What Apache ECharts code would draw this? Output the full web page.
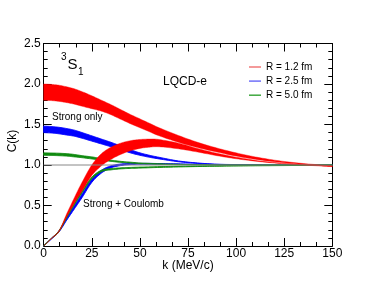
<!DOCTYPE html>
<html><head><meta charset="utf-8">
<script src="https://cdn.jsdelivr.net/npm/echarts@6/dist/echarts.min.js"></script>
<style>html,body{margin:0;padding:0;background:#fff}#c{width:374px;height:289px}</style>
</head><body><div id="c"></div>
<script>
// k grid (MeV/c)
const K = [0,4,8,12,16,20,25,30,35,40,45,50,55,60,70,80,90,100,110,120,130,140,150];
// R = 1.2 fm, strong only (band lo/hi)
const redStrongHi = [2.00,1.995,1.985,1.965,1.94,1.905,1.855,1.80,1.745,1.685,1.625,1.57,1.515,1.46,1.365,1.28,1.21,1.15,1.10,1.06,1.03,1.008,0.99];
const redStrongLo = [1.80,1.795,1.785,1.77,1.75,1.725,1.695,1.665,1.62,1.565,1.51,1.46,1.41,1.36,1.28,1.215,1.16,1.11,1.07,1.04,1.017,1.0,0.983];
// R = 1.2 fm, strong + Coulomb
const redCoulHi = [0.0,0.095,0.19,0.40,0.60,0.79,1.00,1.14,1.22,1.27,1.30,1.315,1.32,1.315,1.27,1.203,1.145,1.097,1.058,1.03,1.01,0.997,0.985];
const redCoulLo = [0.0,0.09,0.18,0.36,0.53,0.68,0.87,0.99,1.07,1.13,1.175,1.205,1.22,1.225,1.2,1.16,1.115,1.077,1.047,1.024,1.007,0.993,0.98];
// R = 2.5 fm
const blueStrongHi = [1.48,1.475,1.465,1.45,1.43,1.40,1.36,1.32,1.28,1.235,1.19,1.15,1.12,1.095,1.05,1.025,1.01,1.005,1.0,1.0,1.0,1.0,1.0];
const blueStrongLo = [1.40,1.395,1.385,1.37,1.355,1.33,1.295,1.26,1.225,1.19,1.15,1.12,1.095,1.075,1.04,1.02,1.005,1.0,1.0,1.0,1.0,1.0,1.0];
const blueCoulHi = [0.005,0.095,0.19,0.35,0.50,0.645,0.825,0.935,0.99,1.012,1.02,1.02,1.02,1.018,1.014,1.01,1.007,1.005,1.003,1.002,1.0,1.0,1.0];
const blueCoulLo = [0.0,0.085,0.175,0.32,0.46,0.60,0.785,0.90,0.965,0.993,1.005,1.01,1.01,1.01,1.008,1.006,1.004,1.003,1.002,1.001,1.0,1.0,1.0];
// R = 5.0 fm
const greenStrongHi = [1.15,1.148,1.145,1.14,1.13,1.115,1.10,1.08,1.06,1.045,1.035,1.025,1.02,1.015,1.008,1.004,1.0,1.0,1.0,1.0,1.0,1.0,1.0];
const greenStrongLo = [1.12,1.118,1.115,1.11,1.10,1.09,1.075,1.06,1.045,1.032,1.024,1.017,1.012,1.008,1.004,1.002,1.0,1.0,1.0,1.0,1.0,1.0,1.0];
const greenCoulHi = [0.005,0.095,0.19,0.37,0.53,0.68,0.85,0.935,0.955,0.965,0.97,0.974,0.977,0.98,0.984,0.988,0.99,0.992,0.994,0.996,0.997,0.998,0.999];
const greenCoulLo = [0.0,0.09,0.18,0.35,0.51,0.66,0.83,0.918,0.94,0.952,0.958,0.962,0.966,0.97,0.976,0.981,0.985,0.988,0.99,0.992,0.994,0.996,0.997];
// axis ticks
const xTicks = [0,25,50,75,100,125,150];
const yTicks = [0.0,0.5,1.0,1.5,2.0,2.5];
const legendNames = ['R = 1.2 fm','R = 2.5 fm','R = 5.0 fm'];

const RED='#ff0000', BLUE='#0000ff', GREEN='#108a10';
const FONT='Liberation Sans, Arial, sans-serif';

// Catmull-Rom sampling in pixel space
function smoothPts(p){
  const out=[];
  const n=p.length, S=8, t=1;
  for(let i=0;i<n-1;i++){
    const p0=p[Math.max(0,i-1)], p1=p[i], p2=p[i+1], p3=p[Math.min(n-1,i+2)];
    const c1=[p1[0]+(p2[0]-p0[0])*t/6, p1[1]+(p2[1]-p0[1])*t/6];
    const c2=[p2[0]-(p3[0]-p1[0])*t/6, p2[1]-(p3[1]-p1[1])*t/6];
    for(let s=0;s<S;s++){
      const u=s/S, v=1-u;
      out.push([v*v*v*p1[0]+3*v*v*u*c1[0]+3*v*u*u*c2[0]+u*u*u*p2[0],
                v*v*v*p1[1]+3*v*v*u*c1[1]+3*v*u*u*c2[1]+u*u*u*p2[1]]);
    }
  }
  out.push(p[n-1]);
  return out;
}

function band(name, lo, hi, color, lw){
  return {
    name, type:'custom', coordinateSystem:'cartesian2d', silent:true,
    itemStyle:{color},
    data:K.map((k,i)=>[k, lo[i], hi[i]]),
    encode:{x:0, y:[1,2]},
    renderItem(params, api){
      if(params.dataIndex!==0) return null;
      const up=smoothPts(K.map((k,i)=>api.coord([k,hi[i]])));
      const dn=smoothPts(K.map((k,i)=>api.coord([k,lo[i]])));
      const pts=up.concat(dn.reverse());
      return {type:'polygon', shape:{points:pts}, style:{fill:color, stroke:color, lineWidth:lw}};
    }
  };
}

const series = [
  {type:'line', data:[[xTicks[0],1],[xTicks[xTicks.length-1],1]], symbol:'none',
   lineStyle:{color:'#888', width:1}, silent:true},
  band(legendNames[1], blueStrongLo, blueStrongHi, BLUE, 0.9),
  band(legendNames[1], blueCoulLo, blueCoulHi, BLUE, 0.9),
  band(legendNames[2], greenStrongLo, greenStrongHi, GREEN, 0.9),
  band(legendNames[2], greenCoulLo, greenCoulHi, GREEN, 0.9),
  band(legendNames[0], redStrongLo, redStrongHi, RED, 0.4),
  band(legendNames[0], redCoulLo, redCoulHi, RED, 0.4)
];

function mkAxis(pos, ticks, interval, split, labels){
  return {type:'value', position:pos, min:ticks[0], max:ticks[ticks.length-1], interval,
    axisLine:{onZero:false, lineStyle:{color:'#000', width:1}},
    splitLine:{show:false},
    axisTick:{inside:true, length:8, lineStyle:{color:'#000'}},
    minorTick:{show:true, splitNumber:split, length:4, lineStyle:{color:'#000'}},
    axisLabel: labels};
}

const chart = echarts.init(document.getElementById('c'), null, {renderer:'canvas'});
chart.setOption({
  animation:false,
  backgroundColor:'#fff',
  grid:{left:43.7, right:41.7, top:43.5, bottom:43, containLabel:false},
  legend:{
    orient:'vertical', left:249, top:62, padding:0, itemWidth:12, itemHeight:1.5, itemGap:4.1,
    selectedMode:false, icon:'rect', z:10,
    textStyle:{fontFamily:FONT, fontSize:10, color:'#000'},
    data:[
      {name:legendNames[0], itemStyle:{color:'#f07878'}},
      {name:legendNames[1], itemStyle:{color:'#7070f8'}},
      {name:legendNames[2], itemStyle:{color:'#40a840'}}
    ]
  },
  xAxis:[
    mkAxis('bottom',xTicks,25,3,{fontFamily:FONT, fontSize:12, color:'#000', margin:2}),
    mkAxis('top',xTicks,25,3,{show:false})
  ],
  yAxis:[
    mkAxis('left',yTicks,0.5,5,{fontFamily:FONT, fontSize:12, color:'#000', margin:3, formatter:v=>v.toFixed(1)}),
    mkAxis('right',yTicks,0.5,5,{show:false})
  ],
  graphic:[
    {type:'text', z:100, left:61, top:52, style:{text:'3', font:'10px '+FONT, fill:'#000'}},
    {type:'text', z:100, left:67.5, top:57, style:{text:'S', font:'15px '+FONT, fill:'#000'}},
    {type:'text', z:100, left:78, top:67, style:{text:'1', font:'10px '+FONT, fill:'#000'}},
    {type:'text', z:100, left:163, top:76, style:{text:'LQCD-e', font:'12px '+FONT, fill:'#000'}},
    {type:'text', z:100, left:52, top:112, style:{text:'Strong only', font:'10px '+FONT, fill:'#000'}},
    {type:'text', z:100, left:83, top:199, style:{text:'Strong + Coulomb', font:'10px '+FONT, fill:'#000'}},
    {type:'text', z:100, x:188, y:266, style:{text:'k (MeV/c)', font:'12px '+FONT, fill:'#000', align:'center', verticalAlign:'middle'}},
    {type:'text', z:100, x:13, y:141, rotation:Math.PI/2, style:{text:'C(k)', font:'12px '+FONT, fill:'#000', align:'center', verticalAlign:'middle'}}
  ],
  series
});
</script></body></html>
